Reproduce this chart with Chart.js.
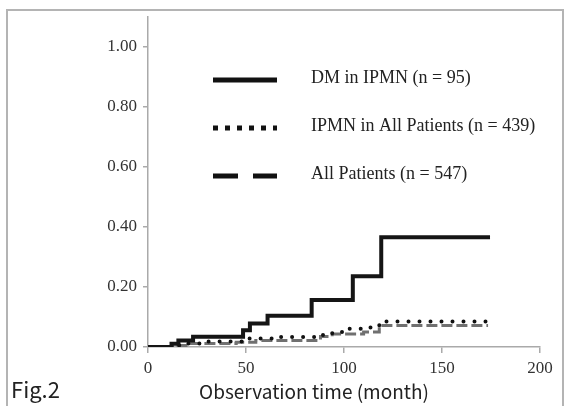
<!DOCTYPE html>
<html>
<head>
<meta charset="utf-8">
<script src="https://cdn.jsdelivr.net/npm/chart.js@4"></script>
<style>
  body { margin: 0; background: #fff; }
  #wrap { width: 566px; height: 406px; position: relative; }
</style>
</head>
<body>
<div id="wrap"><canvas id="km"></canvas></div>
<script>
// Cumulative incidence (months / rate)
const seriesNames = ["DM in IPMN (n = 95)", "IPMN in All Patients (n = 439)", "All Patients (n = 547)"];

const dmMonths = [0, 12, 15.5, 23, 48.5, 52, 61, 83.5, 104.5, 119, 174.5];
const dmRate = [0, 0.011, 0.022, 0.034, 0.056, 0.078, 0.104, 0.157, 0.236, 0.366, 0.366];

const ipmnMonths = [0, 14, 20, 30, 50, 66, 88, 94, 102, 111, 118, 173.5];
const ipmnRate = [0, 0.006, 0.012, 0.018, 0.028, 0.033, 0.04, 0.05, 0.061, 0.065, 0.085, 0.085];

const allMonths = [0, 14, 22, 45, 55, 88, 94, 110, 118, 173.5];
const allRate = [0, 0.005, 0.012, 0.016, 0.022, 0.035, 0.043, 0.05, 0.072, 0.072];

const xTicks = [0, 50, 100, 150, 200];
const yTicks = [0, 0.2, 0.4, 0.6, 0.8, 1.0];

function toPoints(xs, ys) {
  return xs.map((x, i) => ({ x: x, y: ys[i] }));
}

// legend samples look a bit different from the plotted lines
const legendStyles = [
  { dash: [], width: 5, cap: "butt", color: "#111" },
  { dash: [5, 7], width: 5, cap: "butt", color: "#111" },
  { dash: [25, 15], width: 5, cap: "butt", color: "#111" }
];

const extras = {
  id: "extras",
  afterDraw(chart) {
    const ctx = chart.ctx;
    ctx.save();
    // outer frame
    ctx.strokeStyle = "#b4b4b4";
    ctx.lineWidth = 2;
    ctx.strokeRect(7, 10, 556, 420);

    // legend inside the plot
    const rows = [80, 128, 176];
    rows.forEach((y, i) => {
      const st = legendStyles[i];
      ctx.beginPath();
      ctx.setLineDash(st.dash);
      ctx.lineCap = st.cap;
      ctx.lineWidth = st.width;
      ctx.strokeStyle = st.color;
      ctx.moveTo(213, y);
      ctx.lineTo(277, y);
      ctx.stroke();
      ctx.setLineDash([]);
      ctx.fillStyle = "#222";
      ctx.font = "18px 'Liberation Serif'";
      ctx.textBaseline = "middle";
      ctx.textAlign = "left";
      ctx.fillText(seriesNames[i], 311, y - 2);
    });

    // axis title and figure label
    ctx.fillStyle = "#222";
    ctx.font = "19px 'Noto Sans CJK JP'";
    ctx.textAlign = "center";
    ctx.textBaseline = "middle";
    ctx.fillText("Observation time (month)", 314, 392);
    ctx.font = "22px 'Noto Sans CJK JP'";
    ctx.textAlign = "left";
    ctx.fillText("Fig.2", 11, 390);
    ctx.restore();
  }
};

new Chart(document.getElementById("km"), {
  type: "line",
  data: {
    datasets: [
      {
        label: seriesNames[0],
        data: toPoints(dmMonths, dmRate),
        stepped: "before",
        borderColor: "#151515",
        borderWidth: 4,
        pointRadius: 0,
        fill: false
      },
      {
        label: seriesNames[1],
        data: toPoints(ipmnMonths, ipmnRate),
        stepped: "before",
        borderColor: "#111",
        borderWidth: 4,
        borderDash: [0, 11],
        borderCapStyle: "round",
        pointRadius: 0,
        fill: false
      },
      {
        label: seriesNames[2],
        data: toPoints(allMonths, allRate),
        stepped: "before",
        borderColor: "#707070",
        borderWidth: 3,
        borderDash: [11, 4],
        pointRadius: 0,
        fill: false
      }
    ]
  },
  options: {
    responsive: true,
    maintainAspectRatio: false,
    animation: false,
    layout: { padding: { top: 17, right: 26, bottom: 0, left: 0 } },
    plugins: {
      legend: { display: false },
      tooltip: { enabled: false }
    },
    scales: {
      x: {
        type: "linear",
        min: 0,
        max: 200,
        afterBuildTicks: (s) => { s.ticks = xTicks.map((v) => ({ value: v })); },
        afterFit: (s) => { s.height = 59; },
        grid: { drawOnChartArea: false, tickLength: 6, color: "#aaa", lineWidth: 1.5 },
        border: { color: "#aaa", width: 1.5 },
        ticks: {
          color: "#333",
          font: { family: "'Liberation Serif'", size: 17 },
          padding: 5,
          maxRotation: 0
        }
      },
      y: {
        min: 0,
        max: 1.1,
        afterBuildTicks: (s) => { s.ticks = yTicks.map((v) => ({ value: v })); },
        afterFit: (s) => { s.width = 148; },
        grid: { drawOnChartArea: false, tickLength: 5, color: "#aaa", lineWidth: 1.5 },
        border: { color: "#aaa", width: 1.5 },
        ticks: {
          color: "#333",
          font: { family: "'Liberation Serif'", size: 17 },
          padding: 6,
          callback: (v) => v.toFixed(2)
        }
      }
    }
  },
  plugins: [extras]
});
</script>
</body>
</html>
